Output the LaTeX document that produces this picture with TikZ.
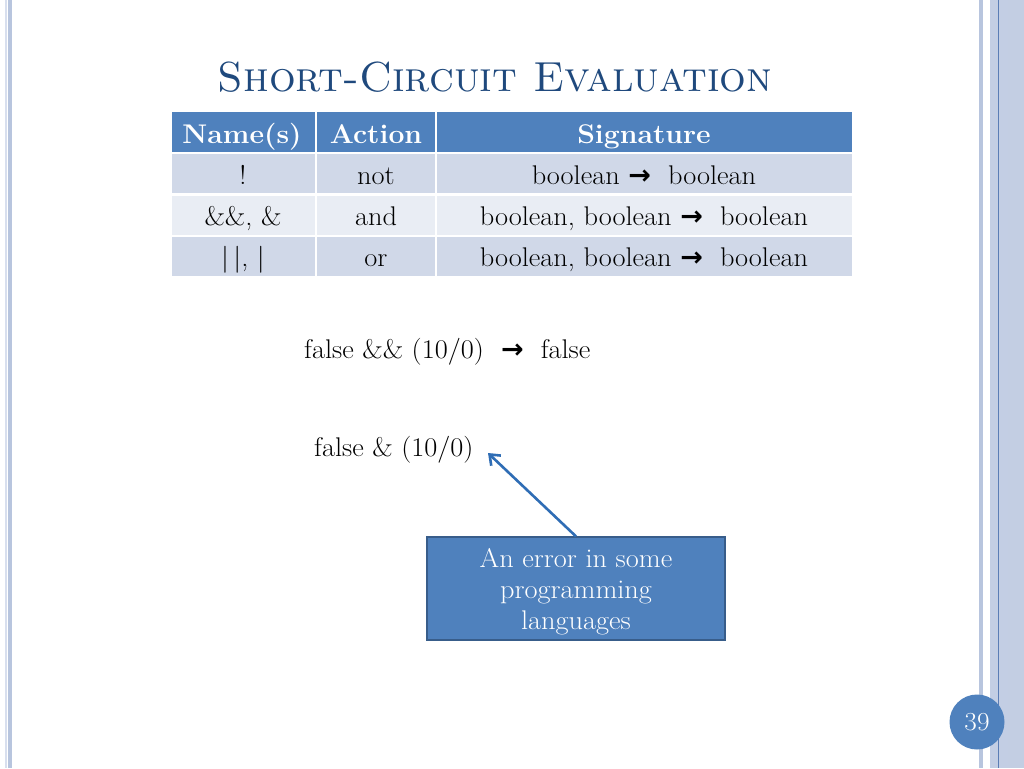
\documentclass[tikz,border=0pt]{standalone}
\usepackage{fontspec}
\newfontfamily\dejavu{DejaVu Sans}
\newfontfamily\wide[FakeStretch=1.05]{Latin Modern Roman}
\usetikzlibrary{arrows.meta}
\definecolor{hdr}{HTML}{4F81BD}
\definecolor{rowA}{HTML}{D0D8E8}
\definecolor{rowB}{HTML}{E9EDF4}
\definecolor{titleblue}{HTML}{1F497D}
\definecolor{bandA}{HTML}{B8C5DE}
\definecolor{bandB}{HTML}{C3CEE4}
\definecolor{bandC}{HTML}{D8DFEE}
\definecolor{bandLine}{HTML}{5B7DB5}
\definecolor{boxedge}{HTML}{385D8A}
\definecolor{arrowblue}{HTML}{2F6DB5}
\newcommand{\arr}{{\dejavu\bfseries →}}
\tikzset{
  celltext/.style={inner sep=0pt, anchor=base, font=\wide\fontsize{27}{31}\selectfont, text=black},
  hdrtext/.style={inner sep=0pt, anchor=base, font=\wide\fontsize{27}{31}\selectfont\bfseries, text=white},
  body/.style={inner sep=0pt, anchor=base west, font=\wide\fontsize{27}{31}\selectfont, text=black},
}
\begin{document}
\begin{tikzpicture}[x=1pt,y=-1pt]
\useasboundingbox (0,0) rectangle (1024,768);
\fill[white] (0,0) rectangle (1024,768);
% left border
\fill[bandC] (5,0) rectangle (6.5,768);
\fill[bandA] (8,0) rectangle (12,768);
% right border
\fill[bandA] (979,0) rectangle (983,768);
\fill[bandB] (990,0) rectangle (1008,768);
\fill[bandLine] (998,0) rectangle (999.3,768);
\fill[bandA!85!white] (1008,0) rectangle (1024,768);
% title
\node[inner sep=0pt, anchor=base, text=titleblue, font=\fontsize{42}{48}\selectfont\scshape] (title) at (495,91) {Short-Circuit Evaluation};
% table
\fill[hdr] (172,112) rectangle (315,152);
\fill[hdr] (317,112) rectangle (435,152);
\fill[hdr] (437,112) rectangle (852,152);
\fill[rowA] (172,154) rectangle (315,193);
\fill[rowA] (317,154) rectangle (435,193);
\fill[rowA] (437,154) rectangle (852,193);
\fill[rowB] (172,196) rectangle (315,235);
\fill[rowB] (317,196) rectangle (435,235);
\fill[rowB] (437,196) rectangle (852,235);
\fill[rowA] (172,237) rectangle (315,276);
\fill[rowA] (317,237) rectangle (435,276);
\fill[rowA] (437,237) rectangle (852,276);
\node[hdrtext] (h1) at (242,143) {Name(s)};
\node[hdrtext] (h2) at (376,143) {Action};
\node[hdrtext] (h3) at (644,143) {Signature};
\node[celltext] (a1) at (243,184) {!};
\node[celltext] (a2) at (376,184) {not};
\node[celltext] (a3) at (644,184) {boolean \arr\ \ boolean};
\node[celltext] (b1) at (243,225) {\&\&, \&};
\node[celltext] (b2) at (376,225) {and};
\node[celltext] (b3) at (644,225) {boolean, boolean \arr\ \ boolean};
\node[celltext] (c1) at (243,266) {|\,|, |};
\node[celltext] (c2) at (376,266) {or};
\node[celltext] (c3) at (644,266) {boolean, boolean \arr\ \ boolean};
% expressions
\node[body] (e1) at (304,358) {false \&\& (10/0) \ \arr\ \ false};
\node[body] (e2) at (314,456) {false \& (10/0)};
\coordinate (tip) at (488,453);
% callout
\node[draw=boxedge, line width=1.2pt, fill=hdr, minimum width=298, minimum height=103, inner sep=0pt] (box) at (576,588.5) {};
\node[inner sep=0pt, text=white, align=center, font=\wide\fontsize{27}{31}\selectfont] (boxtext) at (576,592) {An error in some\\programming\\languages};
\draw[arrowblue, line width=2.6pt, -{Straight Barb[length=9pt, width=14pt]}] (box.north) -- (tip);
% page number
\node[circle, fill=hdr, minimum size=55, inner sep=0pt, text=white, font=\wide\fontsize{26}{30}\selectfont] (pg) at (977,722) {39};
\end{tikzpicture}
\end{document}
